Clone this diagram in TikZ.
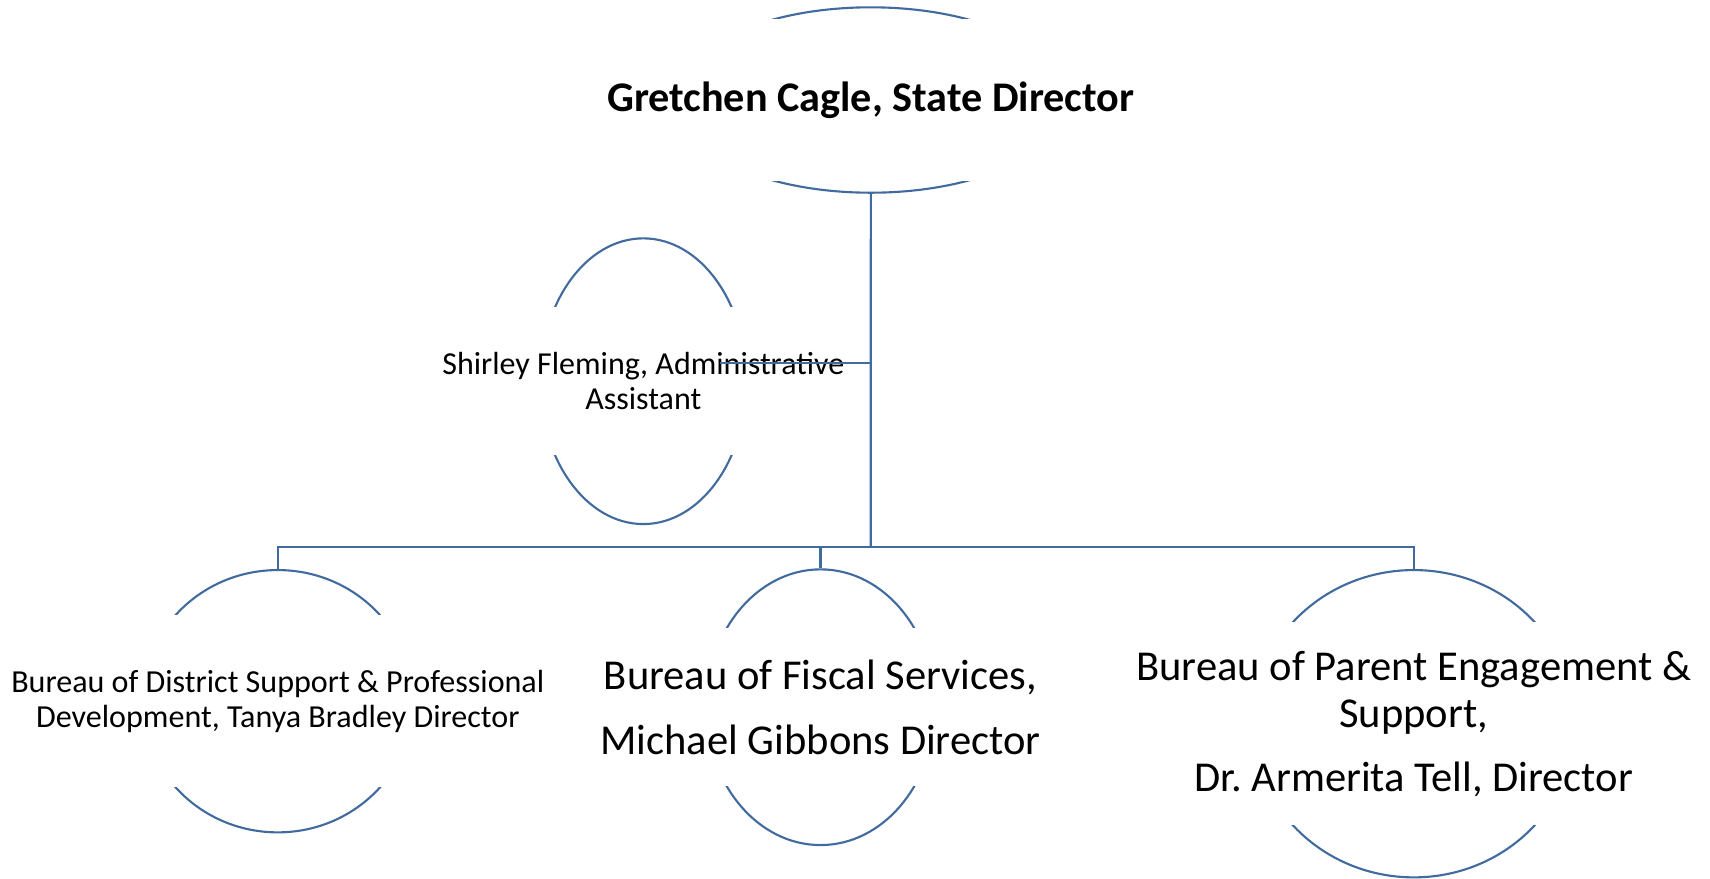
\documentclass[tikz,border=0pt]{standalone}
\usepackage{fontspec}
\setmainfont{Carlito}
\usepackage{tikz}
\usetikzlibrary{shapes.geometric}
\definecolor{orgline}{RGB}{65,106,158}
\frenchspacing
\tikzset{
    shell/.style={
        ellipse, draw=orgline, line width=0.6pt, inner sep=0pt
    },
    band/.style={
        fill=white, inner sep=0pt, align=center
    },
    link/.style={draw=orgline, line width=0.6pt}
}
% name, x, y, width, height, band height, font, text
\newcommand{\orgunit}[8] {
	\node[shell, minimum width=#4*0.01cm, minimum height=#5*0.01cm] (#1) at (#2,#3) {};
	\node[band, minimum width=#4*0.01cm+4pt, minimum height=#6*0.01cm, font=#7] (#1-text) at (#1) {#8};
}

\begin{document}
\begin{tikzpicture}[x=0.01cm, y=-0.01cm]
		\useasboundingbox (0,0) rectangle (1710,878);

		% director
		\orgunit{gc}{870.8}{100}{393.4}{185.4}{162.4}{\fontsize{12}{14}\selectfont\bfseries}{Gretchen Cagle, State Director}

		% assistant
		\orgunit{sf}{643.3}{381.2}{206.4}{285.7}{147.7}{\fontsize{9.1}{10.1}\selectfont}{Shirley Fleming, Administrative\\Assistant}

		% bureaus
		\orgunit{bd}{277.8}{701.2}{271}{262.3}{171.7}{\fontsize{9.12}{9.92}\selectfont}{Bureau of District Support \& Professional\\Development, Tanya Bradley Director}
		\orgunit{fs}{820.5}{707.2}{228.8}{275.7}{158.4}{\fontsize{12.1}{14.5}\selectfont}{Bureau of Fiscal Services,\\[3.9pt]Michael Gibbons Director}
		\orgunit{pe}{1413.8}{723.7}{322.2}{307.3}{203.3}{\fontsize{12.1}{13.5}\selectfont}{Bureau of Parent Engagement \&\\Support,\\[4.6pt]Dr. Armerita Tell, Director}

		% connectors
		\coordinate (hub) at (870.7,546.7);
		\coordinate (sf-end) at (720,362.7);
		\draw[link] (gc.south) -- (hub);
		\draw[link] (sf-end) -- (sf-end -| gc.south);
		\draw[link] (bd.north) |- (hub) -| (pe.north);
		\draw[link] (fs.north) -- (fs.north |- hub);

	\end{tikzpicture}
\end{document}
